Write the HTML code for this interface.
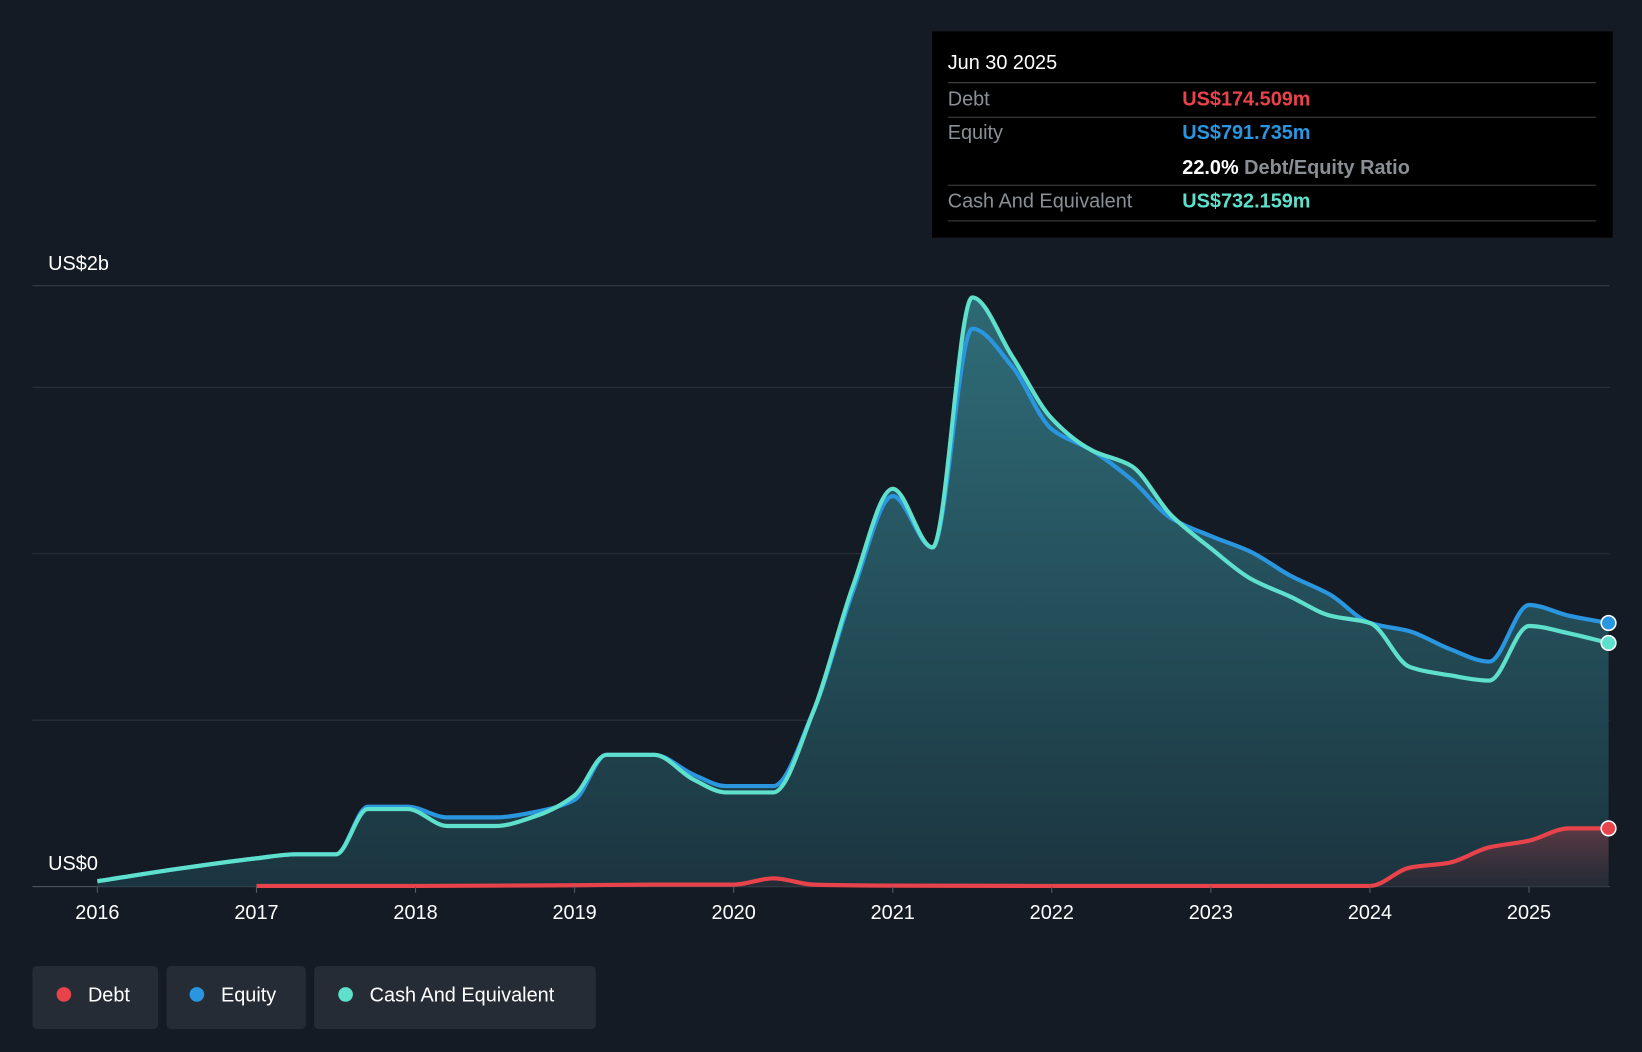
<!DOCTYPE html>
<html><head><meta charset="utf-8"><style>
html,body{margin:0;padding:0;background:#151b24;}
svg{display:block;font-family:"Liberation Sans",sans-serif;}
</style></head><body>
<svg id="chart" width="1642" height="1052" viewBox="0 0 1568 1005" preserveAspectRatio="none">
<defs>
<linearGradient id="fillG" x1="0" y1="0" x2="0" y2="1">
<stop offset="0" stop-color="#2f6d78" stop-opacity="0.95"/>
<stop offset="1" stop-color="#1b3540" stop-opacity="0.9"/>
</linearGradient>
<linearGradient id="debtG" x1="0" y1="0" x2="0" y2="1">
<stop offset="0" stop-color="#6a3a44" stop-opacity="0.8"/>
<stop offset="1" stop-color="#2a2530" stop-opacity="0.6"/>
</linearGradient>
</defs>
<rect x="0" y="0" width="1568" height="1005" fill="#151b24"/>
<g id="grid"></g>
<g id="areas"></g>
<g id="lines"></g>
<g id="xaxis"></g>
<text x="46" y="258" fill="#fff" font-size="19">US$2b</text>
<text x="46" y="831" fill="#fff" font-size="19">US$0</text>

<g>
<rect x="890" y="30" width="650" height="197" fill="#000"/>
<text x="905" y="66" fill="#fff" font-size="19">Jun 30 2025</text>
<line x1="905" y1="79" x2="1524" y2="79" stroke="#444"/>
<text x="905" y="101" fill="#8a8f96" font-size="19">Debt</text>
<text x="1129" y="101" fill="#e8434b" font-size="19" font-weight="bold">US$174.509m</text>
<line x1="905" y1="112" x2="1524" y2="112" stroke="#444"/>
<text x="905" y="133" fill="#8a8f96" font-size="19">Equity</text>
<text x="1129" y="133" fill="#2a96e0" font-size="19" font-weight="bold">US$791.735m</text>
<text x="1129" y="166" fill="#fff" font-size="19" font-weight="bold">22.0% <tspan fill="#8a8f96" font-weight="bold">Debt/Equity Ratio</tspan></text>
<line x1="905" y1="177" x2="1524" y2="177" stroke="#444"/>
<text x="905" y="198" fill="#8a8f96" font-size="19">Cash And Equivalent</text>
<text x="1129" y="198" fill="#5fe0cc" font-size="19" font-weight="bold">US$732.159m</text>
<line x1="905" y1="211" x2="1524" y2="211" stroke="#444"/>
</g>

<g>
<g><rect x="31" y="923" width="120" height="60" rx="4" fill="#262c36"/><circle cx="61" cy="950" r="7" fill="#e8434b"/><text x="84" y="957" fill="#fff" font-size="19">Debt</text></g>
<g><rect x="159" y="923" width="133" height="60" rx="4" fill="#262c36"/><circle cx="188" cy="950" r="7" fill="#2a96e0"/><text x="211" y="957" fill="#fff" font-size="19">Equity</text></g>
<g><rect x="300" y="923" width="269" height="60" rx="4" fill="#262c36"/><circle cx="330" cy="950" r="7" fill="#5fe0cc"/><text x="353" y="957" fill="#fff" font-size="19">Cash And Equivalent</text></g>
</g>
</svg>
<script>
const years = [2016,2017,2018,2019,2020,2021,2022,2023,2024,2025];
const cashT = [2016,2016.5,2017,2017.25,2017.5,2017.7,2017.95,2018.2,2018.5,2018.75,2019,2019.2,2019.5,2019.75,2019.95,2020.25,2020.5,2020.75,2021,2021.25,2021.5,2021.75,2022,2022.25,2022.5,2022.75,2023,2023.25,2023.5,2023.75,2024,2024.25,2024.5,2024.75,2025,2025.25,2025.5];
const cashV = [16,53,85,97,97,233,233,182,182,211,274,396,396,321,283,283,525,903,1195,1019,1770,1594,1406,1311,1264,1116,1016,925,871,814,792,660,635,619,783,761,732];
const equityT = cashT;
const equityV = [16,53,85,97,97,240,240,208,208,224,261,396,396,336,302,302,525,887,1173,1019,1676,1563,1374,1311,1223,1107,1053,1006,934,877,792,767,714,676,846,814,792];
const debtT = [2017,2018,2019,2019.5,2020,2020.25,2020.5,2021,2022,2023,2024,2024.25,2024.5,2024.75,2025,2025.25,2025.5];
const debtV = [2,2,4,6,6,25,6,3,2,2,2,57,72,118,138,175,175];

const X = t => 93 + (t-2016)*151.9;
const Y = v => 847 - v*0.318;
const NS = 'http://www.w3.org/2000/svg';
function mk(tag, attrs, parent){const e=document.createElementNS(NS,tag);for(const k in attrs)e.setAttribute(k,attrs[k]);parent.appendChild(e);return e;}
function smooth(ts, vs){
  const x = ts.map(X), y = vs.map(Y), n = x.length;
  const dx=[], s=[];
  for(let i=0;i<n-1;i++){dx.push(x[i+1]-x[i]); s.push((y[i+1]-y[i])/dx[i]);}
  const m=new Array(n);
  m[0]=s[0]; m[n-1]=s[n-2];
  for(let i=1;i<n-1;i++){
    if(s[i-1]*s[i]<=0) m[i]=0;
    else { const w1=2*dx[i]+dx[i-1], w2=dx[i]+2*dx[i-1]; m[i]=(w1+w2)/(w1/s[i-1]+w2/s[i]); }
  }
  let d=`M${x[0]},${y[0]}`;
  for(let i=0;i<n-1;i++){
    const h=dx[i]/3;
    d+=` C${x[i]+h},${y[i]+m[i]*h} ${x[i+1]-h},${y[i+1]-m[i+1]*h} ${x[i+1]},${y[i+1]}`;
  }
  return d;
}
const grid=document.getElementById('grid');
[0,500,1000,1500].forEach(v=>{
  const l=mk('line',{x1:31,x2:1537,y1:Y(v),y2:Y(v),stroke:v===0?'#555b63':'#2c333d','stroke-width':1},grid);
  
  
});
const topLine=mk('line',{x1:31,x2:1537,y1:273,y2:273,stroke:'#3a414b'},grid);



const areas=document.getElementById('areas'), lines=document.getElementById('lines');
function area(ts,vs,fill,name){
  const d=smooth(ts,vs)+` L${X(ts[ts.length-1])},847 L${X(ts[0])},847 Z`;
  const a=mk('path',{d:d,fill:fill},areas);
  
  
}
area(equityT,equityV,'url(#fillG)','equity-area');
area(cashT,cashV,'url(#fillG)','cash-area');
area(debtT,debtV,'url(#debtG)','debt-area');
function line(ts,vs,color,name){
  const l=mk('path',{d:smooth(ts,vs),fill:'none',stroke:color,'stroke-width':4,'stroke-linejoin':'round'},lines);
  
  
  const c=mk('circle',{cx:X(ts[ts.length-1]),cy:Y(vs[vs.length-1]),r:7,fill:color,stroke:'#fff','stroke-width':1.5},lines);
  
  
}
line(equityT,equityV,'#2a96e0','equity-line');
line(cashT,cashV,'#5fe0cc','cash-line');
line(debtT,debtV,'#e8434b','debt-line');

const xa=document.getElementById('xaxis');
years.forEach(y=>{
  const t=mk('line',{x1:X(y),x2:X(y),y1:847,y2:853,stroke:'#555b63'},xa);
  
  
  const tx=mk('text',{x:X(y),y:878,fill:'#fff','font-size':19,'text-anchor':'middle'},xa);
  tx.textContent=y;
  
  
});
</script>
</body></html>
